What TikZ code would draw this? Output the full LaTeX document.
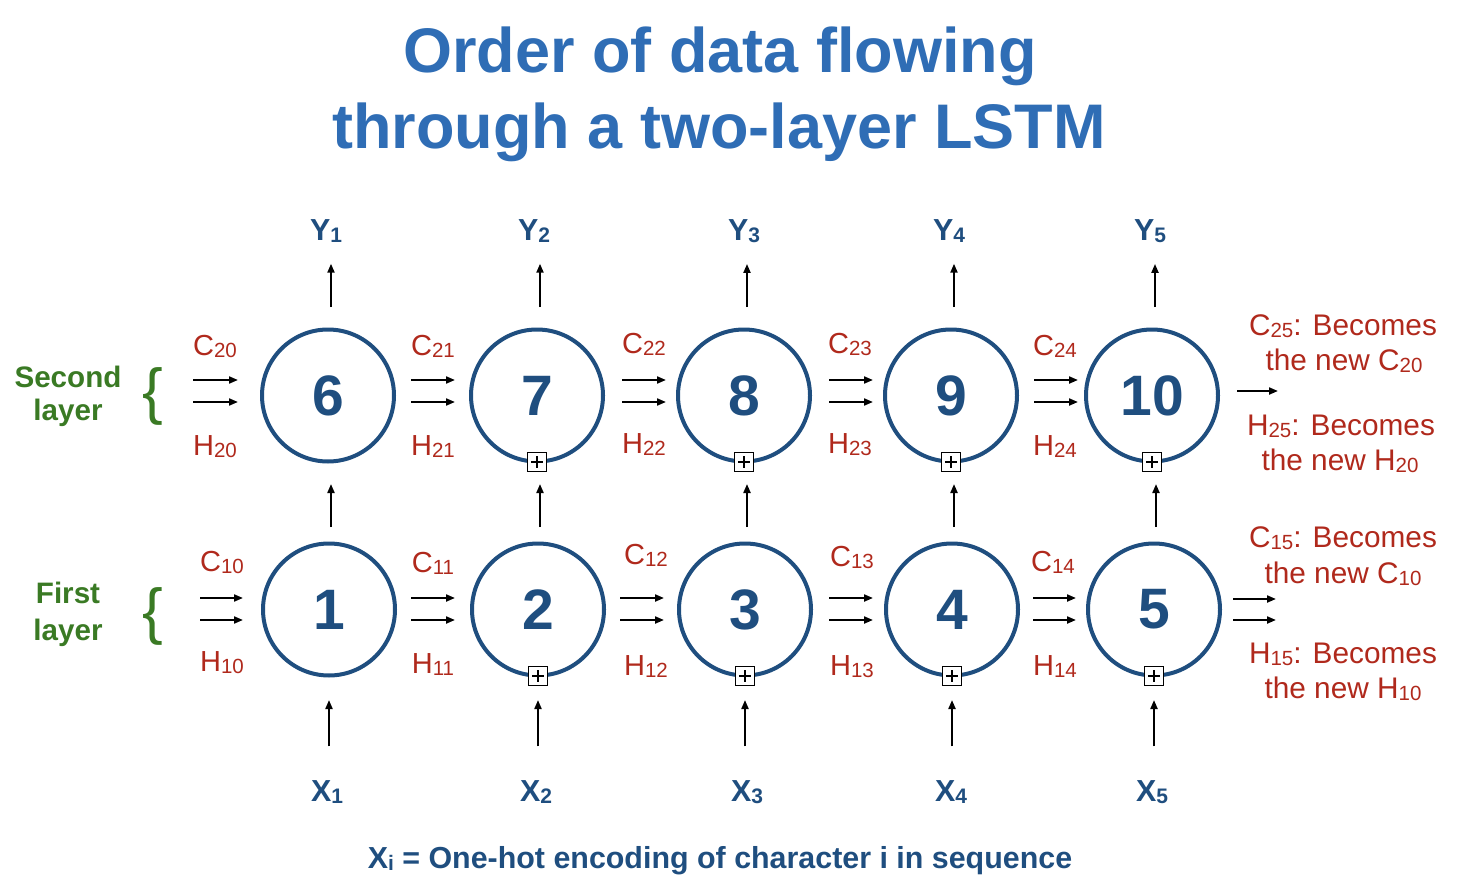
\documentclass[tikz,border=0pt]{standalone}
\usepackage{fontspec}
\setmainfont{Liberation Sans}
\usetikzlibrary{arrows.meta,calc}
\definecolor{titleblue}{HTML}{2F6DB5}
\definecolor{dblue}{HTML}{1F4E7F}
\definecolor{lred}{HTML}{B0291C}
\definecolor{lgreen}{HTML}{3A7A24}
\newcommand\sbr[1]{\raisebox{-2pt}{\fontsize{20.5}{20.5}\selectfont #1}}
\newcommand\sbb[1]{\raisebox{-2pt}{\fontsize{21}{21}\selectfont\bfseries #1}}
\begin{document}
\begin{tikzpicture}[x=1pt,y=-1pt,
  cell/.style={circle,draw=dblue,line width=4pt,minimum size=132pt,inner sep=0pt,text=dblue,font=\fontsize{57}{57}\selectfont\bfseries},
  plusbox/.style={draw=black,fill=white,line width=1.8pt,minimum size=19pt,inner sep=0pt,
    path picture={\draw[line width=1.6pt] ($(path picture bounding box.center)+(-6,0)$) -- ++(12,0)
      ($(path picture bounding box.center)+(0,-6)$) -- ++(0,12);}},
  arr/.style={-{Triangle[length=9pt,width=7pt]},line width=2pt,black},
  redlab/.style={text=lred,font=\fontsize{29}{29}\selectfont,inner sep=0pt,anchor=base},
  redbig/.style={text=lred,font=\fontsize{29.8}{29.8}\selectfont,inner sep=0pt,anchor=base},
  bluelab/.style={text=dblue,font=\fontsize{30.4}{30.4}\selectfont\bfseries,inner sep=0pt,anchor=base},
  greenlab/.style={text=lgreen,font=\fontsize{29.6}{29.6}\selectfont\bfseries,inner sep=0pt,anchor=base},
  bracelab/.style={text=lgreen,font=\fontsize{62}{62}\selectfont,inner sep=0pt,anchor=base},
  titlelab/.style={text=titleblue,font=\fontsize{63}{63}\selectfont\bfseries,inner sep=0pt,anchor=base}
]
\useasboundingbox (0,0) rectangle (1460,880);
% title
\node[titlelab] (t1) at (720,73) {Order of data flowing};
\node[titlelab] (t2) at (719,149) {through a two-layer LSTM};
% cells
\node[cell] (c6) at (328,395.5) {6};
\node[cell] (c7) at (537,395.5) {7};
\node[cell] (c8) at (744,395.5) {8};
\node[cell] (c9) at (951,395.5) {9};
\node[cell] (c10) at (1152,395.5) {10};
\node[cell] (c1) at (329,609.5) {1};
\node[cell] (c2) at (538,609.5) {2};
\node[cell] (c3) at (745,609.5) {3};
\node[cell] (c4) at (952,609.5) {4};
\node[cell] (c5) at (1154,609.5) {5};
% plus boxes
\foreach \c in {c7,c8,c9,c10,c2,c3,c4,c5}{
  \node[plusbox] (p\c) at ([yshift=1.5pt]\c.south) {};
}
% layer labels
\node[greenlab] (s1) at (68,387) {Second};
\node[greenlab] (s2) at (68,420) {layer};
\node[greenlab] (f1) at (68,603) {First};
\node[greenlab] (f2) at (68,640) {layer};
\node[bracelab] (b2) at (153,412) {\{};
\node[bracelab] (b1) at (153,632) {\{};
% Y and X labels
\foreach \i/\x/\c in {1/326/c6,2/534/c7,3/744/c8,4/949/c9,5/1150/c10}{
  \node[bluelab] (y\i) at (\x,240.5) {Y\sbb{\i}};
  \draw[arr,shorten <=20.5pt,shorten >=21pt] ([xshift=3pt]\c.north) -- ([xshift=3pt]\c.north |- y\i.south);
}
\foreach \i/\x/\c in {1/327/c1,2/536/c2,3/747/c3,4/951/c4,5/1152/c5}{
  \node[bluelab] (x\i) at (\x,801.5) {X\sbb{\i}};
  \draw[arr,shorten <=34pt,shorten >=22.5pt] (x\i.north -| \c) -- (\c.south);
}
\node[bluelab] (note) at (720,868) {X\sbb{i} = One-hot encoding of character i in sequence};
% between layers
\foreach \a/\b in {c1/c6,c2/c7,c3/c8,c4/c9,c5/c10}{
  \draw[arr,shorten <=14.5pt,shorten >=20.5pt] ([xshift=2pt]\a.north) -- ([xshift=2pt]\a.north |- \b.south);
}
% inputs
\coordinate (in2c) at (193,380);
\coordinate (in2h) at (193,402);
\coordinate (in1c) at (200,598);
\coordinate (in1h) at (200,620);
\draw[arr,shorten >=22pt] (in2c) -- (c6.west |- in2c);
\draw[arr,shorten >=22pt] (in2h) -- (c6.west |- in2h);
\draw[arr,shorten >=18pt] (in1c) -- (c1.west |- in1c);
\draw[arr,shorten >=18pt] (in1h) -- (c1.west |- in1h);
% horizontal arrows between cells
\foreach \a/\b/\s/\t in {c6/c7/15/14,c7/c8/17/10,c8/c9/17/10,c9/c10/15/6}{
  \draw[arr,shorten <=\s pt,shorten >=\t pt] (\a.east |- 0,380) -- (\b.west |- 0,380);
  \draw[arr,shorten <=\s pt,shorten >=\t pt] (\a.east |- 0,402) -- (\b.west |- 0,402);
}
\foreach \a/\b/\s/\t in {c1/c2/14/15,c2/c3/14/13,c3/c4/16/11,c4/c5/13/10}{
  \draw[arr,shorten <=\s pt,shorten >=\t pt] (\a.east |- 0,598) -- (\b.west |- 0,598);
  \draw[arr,shorten <=\s pt,shorten >=\t pt] (\a.east |- 0,620) -- (\b.west |- 0,620);
}
% outputs
\coordinate (out2) at (1278,391);
\coordinate (out1c) at (1276,599);
\coordinate (out1h) at (1276,620);
\draw[arr,shorten <=17pt] (c10.east |- out2) -- (out2);
\draw[arr,shorten <=11pt] (c5.east |- out1c) -- (out1c);
\draw[arr,shorten <=11pt] (c5.east |- out1h) -- (out1h);
% C/H labels
\node[redlab] (lc20) at (215,355) {C\sbr{20}};
\node[redlab] (lh20) at (215,455) {H\sbr{20}};
\node[redlab] (lc21) at (433,355) {C\sbr{21}};
\node[redlab] (lh21) at (433,455) {H\sbr{21}};
\node[redlab] (lc22) at (644,353) {C\sbr{22}};
\node[redlab] (lh22) at (644,453) {H\sbr{22}};
\node[redlab] (lc23) at (850,353) {C\sbr{23}};
\node[redlab] (lh23) at (850,453) {H\sbr{23}};
\node[redlab] (lc24) at (1055,355) {C\sbr{24}};
\node[redlab] (lh24) at (1055,455) {H\sbr{24}};
\node[redlab] (lc10) at (222,571) {C\sbr{10}};
\node[redlab] (lh10) at (222,671) {H\sbr{10}};
\node[redlab] (lc11) at (433,572) {C\sbr{11}};
\node[redlab] (lh11) at (433,673) {H\sbr{11}};
\node[redlab] (lc12) at (646,564) {C\sbr{12}};
\node[redlab] (lh12) at (646,675) {H\sbr{12}};
\node[redlab] (lc13) at (852,566) {C\sbr{13}};
\node[redlab] (lh13) at (852,675) {H\sbr{13}};
\node[redlab] (lc14) at (1053,571) {C\sbr{14}};
\node[redlab] (lh14) at (1055,675) {H\sbr{14}};
% right notes
\node[redbig] (r1a) at (1343,335) {C\sbr{25}: Becomes};
\node[redbig] (r1b) at (1344,370) {the new C\sbr{20}};
\node[redbig] (r2a) at (1341,435) {H\sbr{25}: Becomes};
\node[redbig] (r2b) at (1340,470) {the new H\sbr{20}};
\node[redbig] (r3a) at (1343,547) {C\sbr{15}: Becomes};
\node[redbig] (r3b) at (1343,583) {the new C\sbr{10}};
\node[redbig] (r4a) at (1343,663) {H\sbr{15}: Becomes};
\node[redbig] (r4b) at (1343,698) {the new H\sbr{10}};
\end{tikzpicture}
\end{document}
